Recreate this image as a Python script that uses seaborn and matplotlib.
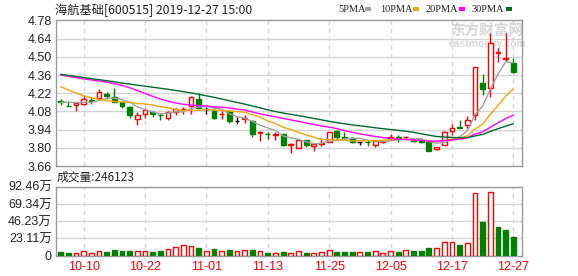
import numpy as np
import pandas as pd
import matplotlib
matplotlib.use('Agg')
import matplotlib.pyplot as plt
from matplotlib.patches import Rectangle
import seaborn as sns

# ---------------- data ----------------
dates = ['09-30', '10-08', '10-09', '10-10', '10-11', '10-14', '10-15', '10-16', '10-17', '10-18',
         '10-21', '10-22', '10-23', '10-24', '10-25', '10-28', '10-29', '10-30', '10-31', '11-01',
         '11-04', '11-05', '11-06', '11-07', '11-08', '11-11', '11-12', '11-13', '11-14', '11-15',
         '11-18', '11-19', '11-20', '11-21', '11-22', '11-25', '11-26', '11-27', '11-28', '11-29',
         '12-02', '12-03', '12-04', '12-05', '12-06', '12-09', '12-10', '12-11', '12-12', '12-13',
         '12-16', '12-17', '12-18', '12-19', '12-20', '12-23', '12-24', '12-25', '12-26', '12-27']
tick_dates = ['10-10', '10-22', '11-01', '11-13', '11-25', '12-05', '12-17', '12-27']

opens = [4.160, 4.125, 4.127, 4.137, 4.165, 4.185, 4.216, 4.193, 4.150, 4.114,
         4.024, 4.058, 4.078, 4.054, 4.027, 4.078, 4.098, 4.124, 4.175, 4.096,
         4.083, 4.058, 4.083, 4.006, 4.022, 4.009, 3.915, 3.908, 3.900, 3.906,
         3.823, 3.800, 3.859, 3.814, 3.832, 3.847, 3.929, 3.883, 3.878, 3.842,
         3.848, 3.819, 3.848, 3.875, 3.882, 3.880, 3.866, 3.850, 3.845, 3.788,
         3.825, 3.929, 3.960, 3.975, 4.052, 4.296, 4.258, 4.530, 4.480, 4.455]
highs = [4.175, 4.160, 4.155, 4.210, 4.190, 4.250, 4.232, 4.262, 4.155, 4.124,
         4.073, 4.104, 4.080, 4.065, 4.083, 4.104, 4.116, 4.200, 4.220, 4.116,
         4.116, 4.083, 4.090, 4.040, 4.052, 4.016, 3.929, 3.919, 3.920, 3.906,
         3.840, 3.862, 3.859, 3.835, 3.875, 3.920, 3.937, 3.919, 3.885, 3.847,
         3.860, 3.852, 3.855, 3.906, 3.900, 3.890, 3.870, 3.855, 3.845, 3.810,
         3.930, 3.980, 4.011, 4.047, 4.420, 4.368, 4.680, 4.565, 4.685, 4.490]
lows = [4.130, 4.120, 4.083, 4.130, 4.135, 4.185, 4.175, 4.150, 4.110, 4.030,
        3.975, 4.027, 4.040, 4.014, 4.016, 4.052, 4.058, 4.058, 4.104, 4.058,
        4.020, 4.020, 3.993, 3.985, 3.993, 3.885, 3.855, 3.865, 3.860, 3.814,
        3.762, 3.795, 3.809, 3.777, 3.814, 3.845, 3.865, 3.865, 3.840, 3.822,
        3.814, 3.809, 3.840, 3.860, 3.847, 3.865, 3.847, 3.840, 3.775, 3.780,
        3.820, 3.895, 3.950, 3.950, 4.013, 4.206, 4.190, 4.462, 4.470, 4.385]
closes = [4.150, 4.120, 4.142, 4.175, 4.160, 4.227, 4.196, 4.150, 4.124, 4.052,
          4.052, 4.091, 4.062, 4.050, 4.078, 4.099, 4.102, 4.188, 4.110, 4.096,
          4.032, 4.062, 4.006, 4.006, 4.030, 3.906, 3.920, 3.904, 3.905, 3.822,
          3.828, 3.860, 3.820, 3.827, 3.836, 3.919, 3.880, 3.878, 3.847, 3.842,
          3.845, 3.852, 3.850, 3.880, 3.878, 3.886, 3.856, 3.845, 3.778, 3.810,
          3.920, 3.955, 3.955, 4.016, 4.420, 4.252, 4.604, 4.540, 4.490, 4.385]
ma5 = [4.150, 4.150, 4.148, 4.150, 4.149, 4.165, 4.180, 4.182, 4.171, 4.150,
       4.115, 4.094, 4.076, 4.061, 4.067, 4.076, 4.078, 4.103, 4.115, 4.119,
       4.106, 4.098, 4.061, 4.040, 4.027, 4.002, 3.974, 3.953, 3.933, 3.891,
       3.876, 3.864, 3.847, 3.831, 3.834, 3.852, 3.856, 3.868, 3.872, 3.873,
       3.858, 3.853, 3.847, 3.854, 3.861, 3.869, 3.870, 3.869, 3.849, 3.835,
       3.842, 3.862, 3.884, 3.931, 4.053, 4.120, 4.249, 4.366, 4.461, 4.454]
ma10 = [4.270, 4.245, 4.222, 4.200, 4.185, 4.172, 4.162, 4.156, 4.152, 4.150,
        4.140, 4.137, 4.129, 4.116, 4.108, 4.095, 4.086, 4.090, 4.088, 4.093,
        4.091, 4.088, 4.082, 4.078, 4.073, 4.054, 4.036, 4.007, 3.987, 3.959,
        3.939, 3.919, 3.900, 3.882, 3.863, 3.864, 3.860, 3.858, 3.852, 3.854,
        3.855, 3.855, 3.858, 3.863, 3.867, 3.864, 3.861, 3.858, 3.851, 3.848,
        3.856, 3.866, 3.876, 3.890, 3.944, 3.981, 4.056, 4.125, 4.196, 4.254]
ma20 = [4.360, 4.350, 4.340, 4.330, 4.322, 4.314, 4.305, 4.294, 4.280, 4.262,
        4.240, 4.218, 4.196, 4.175, 4.158, 4.145, 4.135, 4.128, 4.124, 4.121,
        4.115, 4.112, 4.106, 4.097, 4.091, 4.075, 4.061, 4.049, 4.038, 4.026,
        4.015, 4.003, 3.991, 3.980, 3.968, 3.959, 3.948, 3.932, 3.919, 3.907,
        3.897, 3.887, 3.879, 3.873, 3.865, 3.864, 3.861, 3.858, 3.851, 3.851,
        3.855, 3.860, 3.867, 3.876, 3.906, 3.922, 3.958, 3.992, 4.024, 4.051]
ma30 = [4.365, 4.357, 4.349, 4.340, 4.332, 4.324, 4.316, 4.308, 4.298, 4.290,
        4.282, 4.274, 4.266, 4.258, 4.250, 4.241, 4.232, 4.222, 4.212, 4.200,
        4.188, 4.175, 4.162, 4.149, 4.136, 4.122, 4.107, 4.092, 4.079, 4.067,
        4.057, 4.048, 4.037, 4.026, 4.015, 4.004, 3.994, 3.985, 3.976, 3.969,
        3.962, 3.954, 3.947, 3.941, 3.934, 3.927, 3.919, 3.908, 3.897, 3.887,
        3.883, 3.880, 3.878, 3.878, 3.891, 3.903, 3.926, 3.947, 3.966, 3.985]
# volume in 万 (10k shares)
volume_wan = [4.4, 3.1, 4.0, 6.7, 4.0, 6.7, 4.4, 7.1, 5.8, 5.8,
              5.8, 5.8, 4.4, 5.8, 9.3, 12.0, 14.7, 13.3, 9.8, 6.7,
              8.4, 6.7, 7.1, 5.8, 8.0, 7.1, 5.8, 3.1, 3.1, 4.4,
              3.1, 5.8, 3.1, 3.1, 4.4, 7.1, 4.4, 4.4, 4.4, 4.4,
              4.4, 5.8, 3.1, 5.8, 4.4, 7.1, 5.8, 5.8, 9.8, 9.8,
              18.7, 17.8, 13.8, 16.4, 84.0, 44.4, 85.3, 37.8, 33.8, 24.6123]
# direction of each volume bar (1 = up day, 0 = down day)
volume_up = [0, 0, 1, 1, 1, 1, 0, 0, 0, 0,
             1, 1, 0, 0, 1, 1, 1, 1, 0, 1,
             0, 1, 0, 1, 1, 0, 1, 0, 1, 0,
             1, 1, 0, 1, 1, 1, 0, 0, 0, 1,
             0, 1, 1, 1, 0, 1, 0, 0, 0, 1,
             1, 1, 0, 1, 1, 0, 1, 0, 0, 0]
price_ticks = [3.66, 3.80, 3.94, 4.08, 4.22, 4.36, 4.50, 4.64, 4.78]
vol_ticks_wan = [0, 23.11, 46.23, 69.34, 92.46]
title = '海航基础[600515] 2019-12-27 15:00'
ma_names = ['5PMA', '10PMA', '20PMA', '30PMA']
last_volume = 246123

# ---------------- style ----------------
sns.set_theme(style='white')
plt.rcParams['font.family'] = ['Liberation Sans', 'Noto Sans CJK SC', 'DejaVu Sans']
plt.rcParams['axes.unicode_minus'] = False

RED = '#ff0000'
GREEN = '#008000'
ma_colors = ['#a0a0a0', '#f2a60c', '#ff00ff', '#006b2f']
GRID = '#d4d4d4'
SPINE = '#9a9a9a'
TXT = '#222222'

df = pd.DataFrame({'i': np.arange(len(dates)), 'date': dates, 'open': opens, 'high': highs,
                   'low': lows, 'close': closes, 'ma5': ma5, 'ma10': ma10, 'ma20': ma20,
                   'ma30': ma30, 'vol': np.array(volume_wan) * 1e4,
                   'vup': np.array(volume_up, dtype=bool)})

W, H = 578, 276
fig = plt.figure(figsize=(W / 100, H / 100), dpi=100)
fig.patch.set_facecolor('white')


def axes_px(l, t, r, b):
    return fig.add_axes([l / W, 1 - b / H, (r - l) / W, (b - t) / H])


ax = axes_px(56, 20.4, 522, 166)
axv = axes_px(56, 186.7, 522, 255.5)
ax.patch.set_alpha(0)

xlim = (-0.61, 60.14)
tick_pos = [dates.index(d) for d in tick_dates]

for a in (ax, axv):
    a.set_xlim(*xlim)
    for s in a.spines.values():
        s.set_color(SPINE)
        s.set_linewidth(1)
    a.tick_params(axis='both', length=0, colors=TXT, labelsize=9, pad=3)
    for p in tick_pos:
        a.axvline(p, color=GRID, lw=1, ls=(0, (3, 3)), zorder=0)

# ---- main price panel ----
ax.set_ylim(price_ticks[0], price_ticks[-1])
ax.set_yticks(price_ticks)
ax.set_yticklabels([f'{v:.2f}' for v in price_ticks])
for v in price_ticks[1:-1]:
    ax.axhline(v, color=GRID, lw=1, zorder=0)
ax.set_xticks([])

up = df['close'] > df['open']
down = df['close'] < df['open']
flat = ~(up | down)
bw = 0.62
for mask, edge, face in [(up, RED, 'white'), (down, GREEN, GREEN), (flat, 'black', 'black')]:
    sub = df[mask]
    ax.vlines(sub['i'], sub['low'], sub['high'], color=edge, lw=1, zorder=2)
    body_bottom = np.minimum(sub['open'], sub['close'])
    body_h = np.maximum((sub['close'] - sub['open']).abs(), 0.0015)
    ax.bar(sub['i'], body_h, bottom=body_bottom, width=bw, facecolor=face,
           edgecolor=edge, linewidth=1, zorder=3)

for col, c in zip(['ma5', 'ma10', 'ma20', 'ma30'], ma_colors):
    sns.lineplot(data=df, x='i', y=col, ax=ax, color=c, lw=1, legend=False, zorder=4)
ax.set_xlabel('')
ax.set_ylabel('')
ax.set_xlim(*xlim)

# ---- volume panel ----
vmax = vol_ticks_wan[-1] * 1e4
axv.set_ylim(0, vmax)
axv.set_yticks([v * 1e4 for v in vol_ticks_wan])
axv.set_yticklabels(['0'] + [f'{v:.2f}万' for v in vol_ticks_wan[1:]])
for v in vol_ticks_wan[1:-1]:
    axv.axhline(v * 1e4, color=GRID, lw=1, zorder=0)
for mask, edge, face in [(df['vup'], RED, 'white'), (~df['vup'], GREEN, GREEN)]:
    sub = df[mask]
    axv.bar(sub['i'], sub['vol'], width=bw, facecolor=face, edgecolor=edge,
            linewidth=1, zorder=3)
axv.set_xticks(tick_pos)
axv.set_xticklabels(tick_dates, color=RED, fontsize=9)
axv.tick_params(axis='x', pad=4)

# ---- texts ----
fig.text(55 / W, 1 - 10 / H, title, fontsize=8.8, color=TXT, va='center', ha='left',
         family=['Noto Sans CJK SC', 'DejaVu Sans'])
fig.text(57 / W, 1 - 177.5 / H, f'成交量:{last_volume}', fontsize=8.5, color=TXT,
         va='center', ha='left', family=['Noto Sans CJK SC', 'DejaVu Sans'])

leg_x = [338, 380, 426, 472]
sq_x = [365, 413, 459, 506]
for name, lx, sx, c in zip(ma_names, leg_x, sq_x, ma_colors):
    fig.text(lx / W, 1 - 9 / H, name, fontsize=7.5, color=TXT, va='center', ha='left',
             family=['Liberation Serif', 'DejaVu Serif'])
    fig.patches.append(Rectangle((sx / W, 1 - 11 / H), 6 / W, 4 / H, transform=fig.transFigure,
                                 facecolor=c, edgecolor='none'))

# watermark (behind the price panel, which is transparent)
wm_ax = fig.add_axes([0, 0, 1, 1], zorder=-1)
wm_ax.set_axis_off()
wm_ax.text(487 / W, 1 - 31 / H, '东方财富网', fontsize=10.5, color='#d6d6d6', fontweight='bold',
           va='center', ha='center', family=['Noto Sans CJK SC'], transform=wm_ax.transAxes)
wm_ax.text(487 / W, 1 - 44 / H, 'eastmoney.com', fontsize=7.5, color='#d6d6d6', fontweight='bold',
           va='center', ha='center', transform=wm_ax.transAxes)

fig.savefig('out.png', dpi=100, facecolor='white')
